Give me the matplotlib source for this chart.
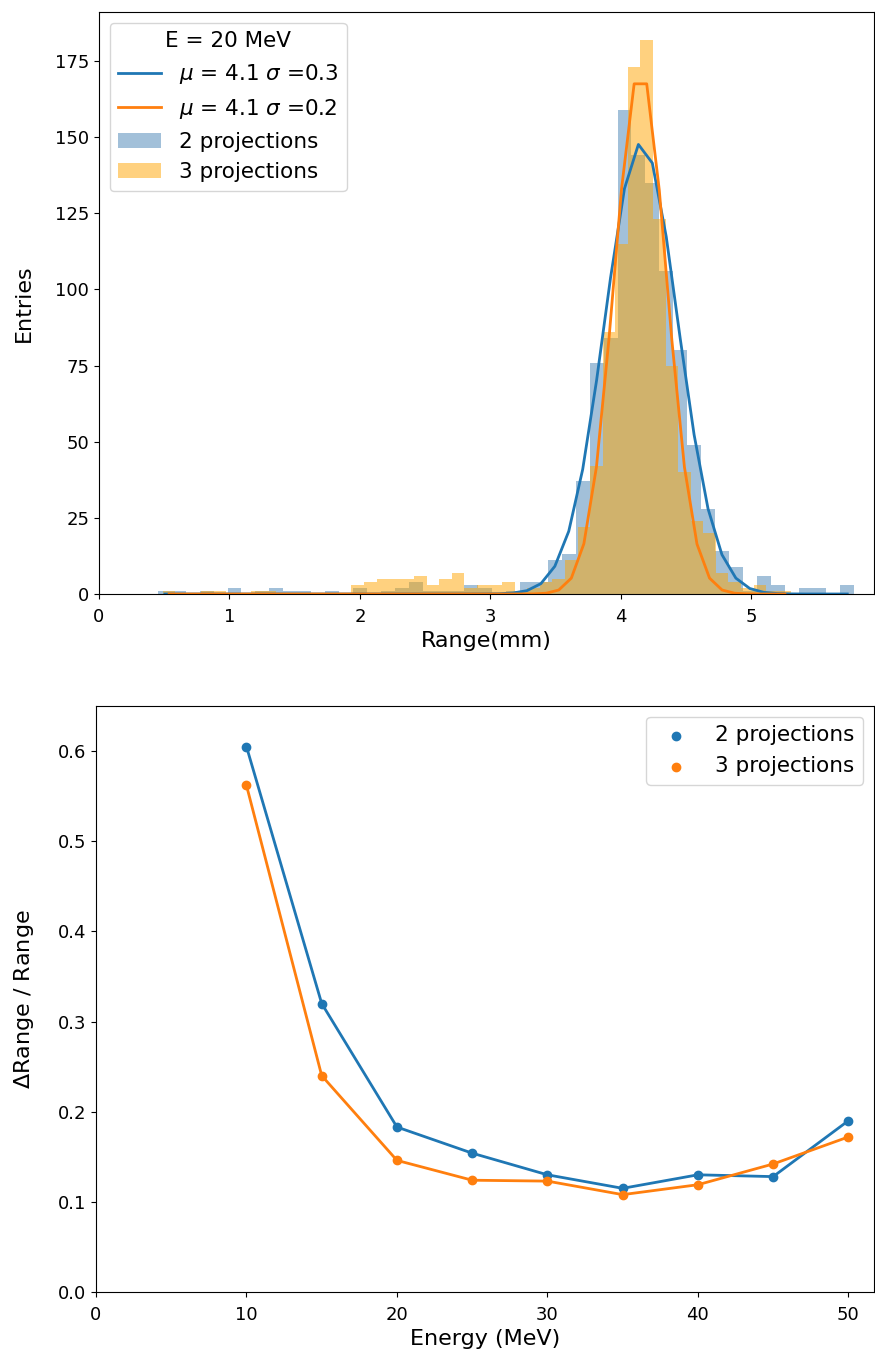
import numpy as np
import matplotlib.pyplot as plt

plt.rcParams['font.size'] = 13
plt.rcParams['axes.labelsize'] = 16

# --- top panel: range distribution at E = 20 MeV (50 bins each) ---
range2_lo, range2_hi = 0.452, 5.789
range3_lo, range3_hi = 0.490, 5.306

counts2 = [1, 1, 0, 1, 0, 2, 0, 1, 2, 1,
           1, 0, 1, 0, 2, 0, 1, 2, 4, 1,
           1, 1, 3, 2, 0, 1, 4, 4, 11, 13,
           37, 76, 84, 159, 144, 135, 106, 80, 49, 28,
           14, 9, 1, 6, 3, 0, 2, 2, 0, 3]
counts3 = [1, 0, 0, 1, 1, 0, 0, 1, 1, 0,
           0, 0, 0, 0, 0, 3, 4, 5, 5, 5,
           6, 3, 5, 7, 2, 3, 3, 4, 1, 2,
           4, 5, 11, 22, 42, 86, 115, 173, 182, 123,
           75, 40, 24, 20, 7, 4, 2, 3, 1, 1]

# gaussian fit curves, read at the bin centres
fit2 = [0, 0, 0, 0, 0, 0, 0, 0, 0, 0,
        0, 0, 0, 0, 0, 0, 0, 0, 0, 0,
        0, 0, 0, 0.02, 0.08, 0.32, 1.1, 3.4, 9.1, 20.6,
        40.9, 70.2, 103.8, 133.1, 147.6, 141.5, 117.3, 84.0, 52.3, 28.0,
        12.9, 5.2, 1.8, 0.54, 0.14, 0.03, 0, 0, 0, 0]
fit3 = [0, 0, 0, 0, 0, 0, 0, 0, 0, 0,
        0, 0, 0, 0, 0, 0, 0, 0, 0, 0,
        0, 0, 0, 0, 0, 0, 0, 0, 0.01, 0.04,
        0.25, 1.3, 5.2, 16.5, 41.7, 83.9, 133.1, 167.5, 167.5, 132.6,
        83.4, 41.7, 16.4, 5.2, 1.3, 0.25, 0.04, 0, 0, 0]

# --- bottom panel: relative range resolution vs energy ---
energy = [10, 15, 20, 25, 30, 35, 40, 45, 50]
res2 = [0.605, 0.320, 0.183, 0.154, 0.130, 0.115, 0.130, 0.128, 0.190]
res3 = [0.562, 0.240, 0.146, 0.124, 0.123, 0.108, 0.119, 0.142, 0.172]

fig = plt.figure(figsize=(8.75, 13.58), dpi=100)
ax1 = fig.add_axes([0.1131, 0.5626, 0.8857, 0.4286])
ax2 = fig.add_axes([0.1097, 0.0486, 0.8891, 0.4315])

edges2 = np.linspace(range2_lo, range2_hi, len(counts2) + 1)
edges3 = np.linspace(range3_lo, range3_hi, len(counts3) + 1)
cent2 = 0.5 * (edges2[:-1] + edges2[1:])
cent3 = 0.5 * (edges3[:-1] + edges3[1:])

ax1.plot(cent2, fit2, color='C0', lw=2, label=r'$\mu$ = 4.1 $\sigma$ =0.3')
ax1.plot(cent3, fit3, color='C1', lw=2, label=r'$\mu$ = 4.1 $\sigma$ =0.2')
ax1.hist(cent2, bins=edges2, weights=counts2, color='steelblue', alpha=0.5,
         label='2 projections')
ax1.hist(cent3, bins=edges3, weights=counts3, color='orange', alpha=0.5,
         label='3 projections')
ax1.set_xlim(0, 5.94)
ax1.set_xlabel('Range(mm)')
ax1.set_ylabel('Entries', labelpad=15)
ax1.legend(title='E = 20 MeV', loc='upper left', fontsize=15.5,
           title_fontsize=15.5)

ax2.plot(energy, res2, color='C0', lw=2)
ax2.plot(energy, res3, color='C1', lw=2)
ax2.scatter(energy, res2, color='C0', label='2 projections', zorder=3)
ax2.scatter(energy, res3, color='C1', label='3 projections', zorder=3)
ax2.set_xlim(0, 51.7)
ax2.set_ylim(0, 0.65)
ax2.set_xlabel('Energy (MeV)')
ax2.set_ylabel(r'$\Delta$Range / Range', labelpad=16)
ax2.legend(loc='upper right', fontsize=15.5)

for ax in (ax1, ax2):
    ax.tick_params(axis='x', pad=6.5)

fig.savefig('out.png')
